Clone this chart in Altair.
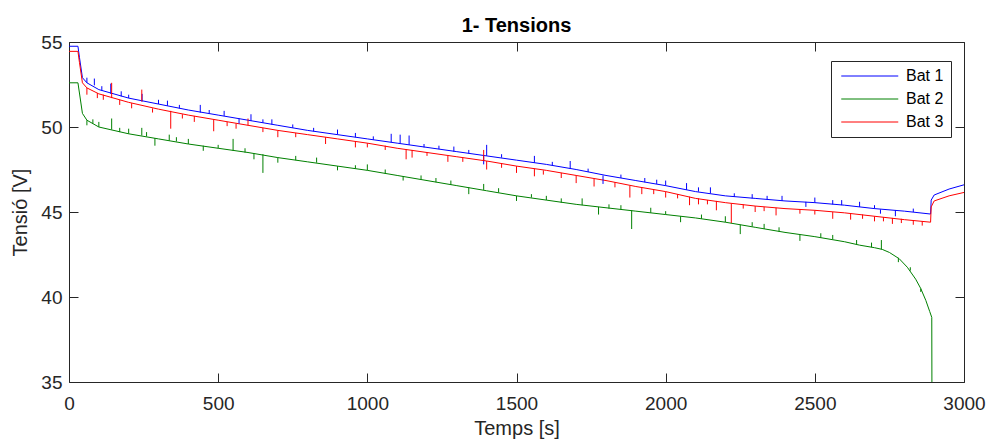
import altair as alt
import pandas as pd

FONT = "Liberation Sans"
INK = "#262626"

series_names = ["Bat 1", "Bat 2", "Bat 3"]
series_colors = ["#0000ff", "#008000", "#ff0000"]

x_ticks = [0, 500, 1000, 1500, 2000, 2500, 3000]
y_ticks = [35, 40, 45, 50, 55]

# ---- base curves (time [s], voltage [V]) ----
t_bat1 = [0, 30, 35, 45, 60, 100, 200, 300, 400, 500, 600, 700, 800, 900, 1000,
          1100, 1200, 1300, 1400, 1500, 1600, 1700, 1800, 1900, 2000, 2100, 2200,
          2300, 2400, 2500, 2600, 2700, 2800, 2888, 2890, 2900, 2950, 3000]
v_bat1 = [54.75, 54.75, 54.1, 52.9, 52.6, 52.2, 51.7, 51.35, 51.0, 50.7, 50.4, 50.1,
          49.8, 49.55, 49.3, 49.05, 48.8, 48.55, 48.3, 48.05, 47.8, 47.5, 47.15,
          46.85, 46.55, 46.2, 45.95, 45.8, 45.65, 45.55, 45.4, 45.2, 45.05, 44.88,
          45.7, 46.0, 46.35, 46.6]

t_bat2 = [0, 30, 35, 45, 60, 100, 200, 300, 400, 500, 600, 700, 800, 900, 1000,
          1100, 1200, 1300, 1400, 1500, 1600, 1700, 1800, 1900, 2000, 2100, 2200,
          2300, 2400, 2500, 2600, 2650, 2700, 2726, 2750, 2783, 2810, 2838, 2855,
          2872, 2885, 2892, 2893]
v_bat2 = [52.6, 52.6, 52.0, 50.8, 50.4, 50.0, 49.6, 49.3, 49.0, 48.75, 48.5, 48.2,
          47.95, 47.7, 47.45, 47.15, 46.85, 46.55, 46.25, 45.95, 45.7, 45.45, 45.25,
          45.05, 44.85, 44.65, 44.4, 44.1, 43.8, 43.55, 43.25, 43.05, 42.9, 42.8,
          42.62, 42.25, 41.75, 41.05, 40.5, 39.8, 39.15, 38.8, 30.0]

t_bat3 = [0, 30, 35, 45, 60, 100, 200, 300, 400, 500, 600, 700, 800, 900, 1000,
          1100, 1200, 1300, 1400, 1500, 1600, 1700, 1800, 1900, 2000, 2100, 2200,
          2300, 2400, 2500, 2600, 2700, 2800, 2888, 2890, 2900, 2950, 3000]
v_bat3 = [54.45, 54.45, 53.8, 52.6, 52.3, 51.95, 51.45, 51.05, 50.7, 50.4, 50.1, 49.8,
          49.55, 49.3, 49.05, 48.75, 48.5, 48.25, 48.0, 47.7, 47.45, 47.15, 46.85,
          46.5, 46.2, 45.8, 45.55, 45.35, 45.2, 45.1, 44.95, 44.75, 44.55, 44.4,
          45.3, 45.65, 45.95, 46.15]

# ---- spikes: (time, foot voltage, tip voltage) ----
spikes_bat1 = [(60, 52.6, 52.9), (85, 52.45, 52.85), (110, 52.15, 52.4),
               (140, 51.95, 52.55), (175, 51.8, 52.1), (200, 51.7, 51.9),
               (245, 51.5, 51.95), (300, 51.35, 51.6), (330, 51.25, 51.55),
               (370, 51.1, 51.3), (440, 50.85, 51.3), (470, 50.8, 51.0),
               (520, 50.65, 50.95), (570, 50.5, 50.2), (610, 50.35, 50.75),
               (650, 50.25, 50.45), (680, 50.15, 50.45), (750, 49.95, 50.15),
               (820, 49.75, 49.95), (900, 49.55, 49.85), (960, 49.4, 49.65),
               (1020, 49.25, 49.45), (1080, 49.1, 49.6), (1110, 49.05, 49.55),
               (1140, 48.95, 49.5), (1190, 48.8, 49.0), (1240, 48.7, 48.9),
               (1290, 48.55, 48.85), (1340, 48.45, 48.65), (1390, 48.3, 47.8),
               (1400, 48.3, 48.95), (1450, 48.2, 48.4), (1560, 47.9, 48.3),
               (1620, 47.75, 47.95), (1680, 47.55, 48.0), (1740, 47.35, 47.55),
               (1790, 47.15, 46.65), (1850, 47.0, 47.2), (1930, 46.75, 47.0),
               (1970, 46.65, 46.9), (2000, 46.55, 46.85), (2070, 46.3, 46.7),
               (2110, 46.2, 46.45), (2150, 46.1, 46.45), (2230, 45.9, 46.1),
               (2290, 45.8, 46.05), (2340, 45.75, 45.95), (2390, 45.65, 45.95),
               (2470, 45.6, 45.3), (2500, 45.55, 45.85), (2560, 45.45, 45.7),
               (2590, 45.4, 45.7), (2650, 45.3, 45.6), (2700, 45.2, 45.4),
               (2720, 45.15, 44.9), (2770, 45.1, 44.75), (2830, 45.0, 45.2)]

spikes_bat2 = [(60, 50.4, 50.1), (80, 50.2, 50.45), (100, 50.0, 50.3),
               (143, 49.85, 50.5), (170, 49.7, 49.95), (200, 49.6, 49.9),
               (244, 49.5, 49.95), (260, 49.45, 49.7), (288, 49.35, 48.9),
               (336, 49.2, 49.55), (360, 49.15, 49.4), (400, 49.0, 49.3),
               (450, 48.9, 48.6), (500, 48.75, 48.95), (550, 48.6, 49.3),
               (590, 48.5, 48.75), (620, 48.45, 48.1), (650, 48.4, 47.3),
               (700, 48.2, 47.9), (760, 48.05, 48.3), (830, 47.9, 48.2),
               (900, 47.7, 47.45), (960, 47.55, 47.75), (1000, 47.45, 47.8),
               (1060, 47.25, 47.5), (1120, 47.1, 46.85), (1180, 46.9, 47.15),
               (1230, 46.75, 47.0), (1280, 46.6, 46.85), (1340, 46.45, 46.05),
               (1390, 46.3, 46.65), (1440, 46.15, 46.4), (1500, 45.95, 45.65),
               (1550, 45.85, 46.05), (1600, 45.7, 45.95), (1650, 45.55, 45.8),
               (1720, 45.4, 45.8), (1775, 45.3, 44.85), (1810, 45.2, 45.45),
               (1850, 45.15, 45.4), (1886, 45.1, 44.0), (1950, 44.95, 45.25),
               (2000, 44.85, 45.05), (2050, 44.75, 44.4), (2120, 44.6, 44.85),
               (2200, 44.4, 44.75), (2250, 44.25, 43.7), (2290, 44.15, 44.4),
               (2330, 44.0, 44.3), (2380, 43.85, 44.1), (2450, 43.65, 43.3),
               (2520, 43.5, 43.75), (2560, 43.4, 43.65), (2640, 43.1, 43.35),
               (2690, 42.93, 43.2), (2723, 42.8, 43.35), (2780, 42.3, 42.05),
               (2820, 41.55, 41.75), (2855, 40.5, 40.3)]

spikes_bat3 = [(60, 52.3, 51.9), (95, 52.0, 51.7), (115, 51.9, 51.6),
               (143, 51.7, 52.6), (170, 51.6, 51.3), (210, 51.4, 51.1),
               (244, 51.5, 52.2), (280, 51.1, 50.85), (341, 50.95, 49.9),
               (380, 50.75, 50.5), (420, 50.65, 50.3), (485, 50.45, 49.75),
               (530, 50.3, 50.05), (560, 50.2, 49.9), (600, 50.1, 50.5),
               (650, 49.95, 49.7), (700, 49.8, 49.4), (760, 49.65, 49.4),
               (860, 49.4, 49.0), (960, 49.15, 48.8), (1000, 49.05, 48.8),
               (1060, 48.9, 48.65), (1130, 48.7, 48.1), (1150, 48.65, 48.2),
               (1200, 48.5, 48.3), (1270, 48.3, 47.95), (1320, 48.2, 47.95),
               (1390, 48.0, 48.65), (1400, 48.0, 47.5), (1450, 47.85, 47.6),
               (1500, 47.7, 47.3), (1560, 47.55, 47.1), (1590, 47.45, 47.2),
               (1650, 47.3, 47.0), (1700, 47.15, 46.7), (1760, 46.95, 46.5),
               (1830, 46.75, 46.45), (1880, 46.55, 45.85), (1920, 46.45, 46.05),
               (1960, 46.3, 46.05), (2000, 46.2, 45.85), (2040, 46.05, 45.8),
               (2080, 45.9, 45.4), (2110, 45.8, 45.45), (2140, 45.7, 45.45),
               (2170, 45.65, 45.1), (2220, 45.5, 44.35), (2260, 45.45, 45.2),
               (2300, 45.35, 45.0), (2330, 45.3, 45.05), (2370, 45.25, 44.8),
               (2450, 45.15, 44.9), (2500, 45.1, 44.85), (2560, 45.0, 44.6),
               (2620, 44.9, 44.55), (2660, 44.85, 44.6), (2700, 44.75, 44.45),
               (2730, 44.7, 44.45), (2760, 44.65, 44.3), (2790, 44.6, 44.35),
               (2830, 44.5, 44.25), (2860, 44.45, 44.2)]

# ---- tables ----
line_rows = []
for name, ts, vs in zip(series_names, [t_bat1, t_bat2, t_bat3], [v_bat1, v_bat2, v_bat3]):
    for i, (t, v) in enumerate(zip(ts, vs)):
        line_rows.append({"t": t, "v": v, "serie": name, "o": i})
lines_df = pd.DataFrame(line_rows)

spike_rows = []
for name, sp in zip(series_names, [spikes_bat1, spikes_bat2, spikes_bat3]):
    for t, foot, tip in sp:
        spike_rows.append({"t": t, "v": foot, "v2": tip, "serie": name})
spikes_df = pd.DataFrame(spike_rows)

xscale = alt.Scale(domain=[0, 3000], nice=False, zero=False)
yscale = alt.Scale(domain=[35, 55], nice=False, zero=False)
cscale = alt.Scale(domain=series_names, range=series_colors)

TICK = 9

lines = alt.Chart(lines_df).mark_line(strokeWidth=1, clip=True).encode(
    x=alt.X("t:Q", scale=xscale, axis=alt.Axis(
        orient="bottom", values=x_ticks, format="d", tickSize=0, ticks=False,
        domain=False, grid=False, labelFontSize=19, labelPadding=12, labelFont=FONT,
        labelColor=INK, labelFlush=False, title="Temps [s]", titleFontSize=20,
        titleFont=FONT, titleFontWeight="normal", titleColor=INK, titlePadding=5)),
    y=alt.Y("v:Q", scale=yscale, axis=alt.Axis(
        orient="left", values=y_ticks, format="d", tickSize=0, ticks=False,
        domain=False, grid=False, labelFontSize=19, labelPadding=7, labelFont=FONT,
        labelColor=INK, labelFlush=False, title="Tensió [V]", titleFontSize=20,
        titleFont=FONT, titleFontWeight="normal", titleColor=INK, titlePadding=10)),
    color=alt.Color("serie:N", scale=cscale, legend=alt.Legend(
        title=None, orient="none", legendX=762, legendY=19,
        symbolType="M-1,0H11", symbolSize=90.25, symbolStrokeWidth=1,
        labelFontSize=16, labelFont=FONT, labelColor="#000000",
        strokeColor=INK, fillColor="white", padding=7,
        labelOffset=52, rowPadding=7)),
    order="o:Q",
)

spikes = alt.Chart(spikes_df).mark_rule(strokeWidth=1, clip=True).encode(
    x=alt.X("t:Q", scale=xscale, axis=alt.Axis(
        orient="bottom", values=x_ticks, offset=-TICK, tickSize=TICK, tickColor=INK,
        tickWidth=1, labels=False, domain=False, grid=False, title=None)),
    y=alt.Y("v:Q", scale=yscale, axis=alt.Axis(
        orient="left", values=y_ticks, offset=-TICK, tickSize=TICK, tickColor=INK,
        tickWidth=1, labels=False, domain=False, grid=False, title=None)),
    y2="v2:Q",
    color=alt.Color("serie:N", scale=cscale, legend=None),
)

mirror = alt.Chart(lines_df).mark_point(opacity=0, size=1).encode(
    x=alt.X("t:Q", scale=xscale, axis=alt.Axis(
        orient="top", values=x_ticks, offset=-TICK, tickSize=TICK, tickColor=INK,
        tickWidth=1, labels=False, domain=False, grid=False, title=None)),
    y=alt.Y("v:Q", scale=yscale, axis=alt.Axis(
        orient="right", values=y_ticks, offset=-TICK, tickSize=TICK, tickColor=INK,
        tickWidth=1, labels=False, domain=False, grid=False, title=None)),
)

chart = alt.layer(lines, spikes, mirror).resolve_axis(
    x="independent", y="independent"
).properties(
    width=895,
    height=340,
    autosize=alt.AutoSizeParams(type="none"),
    padding={"left": 69, "top": 42, "right": 22, "bottom": 57},
    title=alt.TitleParams("1- Tensions", fontSize=20, fontWeight="bold", font=FONT,
                          color="#000000", anchor="middle", offset=9,
                          baseline="alphabetic", dy=28),
    background="white",
).configure_view(
    stroke=INK, strokeWidth=1
)

chart.save("out.html", embed_options={"renderer": "svg", "actions": False})
